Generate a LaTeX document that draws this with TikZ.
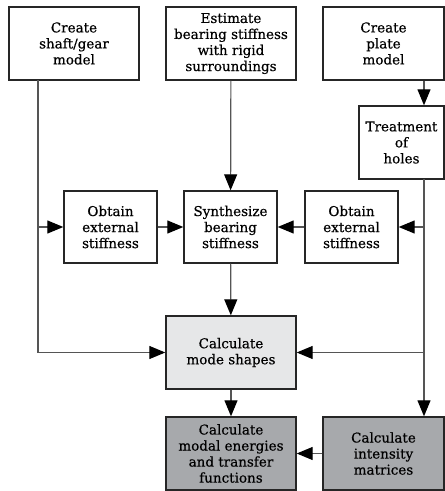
\documentclass[tikz,border=0pt]{standalone}
\usepackage{fontspec}
\setmainfont{DejaVu Serif}
\newfontfamily\boxfont[FakeBold=0.5]{DejaVu Serif}
\usetikzlibrary{positioning,arrows.meta,calc}
\definecolor{lineg}{RGB}{85,85,85}
\definecolor{lightfill}{RGB}{230,231,232}
\definecolor{darkfill}{RGB}{167,169,172}
\tikzset{
  stepbox/.style={draw=black!85,line width=0.35mm,align=center,inner sep=0pt,
    font=\boxfont\fontsize{9.6}{11.4}\selectfont},
  wide/.style={stepbox,minimum width=32.5mm,minimum height=18.25mm},
  narrow/.style={stepbox,minimum width=23.25mm,minimum height=18mm},
  flow/.style={draw=lineg,line width=0.3mm,
    -{Triangle[length=4mm,width=3.25mm,color=black]}},
}
\begin{document}
\begin{tikzpicture}[x=0.25mm,y=-0.25mm]
  \useasboundingbox (0,0) rectangle (445,491);
  % top row
  \node[wide] (shaft) at (74,43.5) {Create\\shaft/gear\\model};
  \node[wide] (est) at (231,43.5) {Estimate\\bearing stiffness\\with rigid\\surroundings};
  \node[wide,minimum width=30.25mm] (plate) at (383.5,43.5) {Create\\plate\\model};
  \node[stepbox,minimum width=21.25mm,minimum height=18.25mm] (treat) at (401.5,142.5) {Treatment\\of\\holes};
  % middle row
  \node[narrow] (obtL) at (110.5,227) {Obtain\\external\\stiffness};
  \node[narrow] (synth) at (230.5,227) {Synthesize\\bearing\\stiffness};
  \node[narrow] (obtR) at (351.5,227) {Obtain\\external\\stiffness};
  % results
  \node[wide,fill=lightfill] (modes) at (231,352.5) {Calculate\\mode shapes};
  \node[wide,fill=darkfill] (energy) at (231,453.5) {Calculate\\modal energies\\and transfer\\functions};
  \node[wide,fill=darkfill,minimum width=30.25mm] (inten) at (383.5,453.5) {Calculate\\intensity\\matrices};
  % buses
  \coordinate (ltop) at (38,80);
  \coordinate (lmid) at (38,227);
  \coordinate (rtop) at (424,179);
  \draw[flow] (ltop) |- (modes.west);
  \draw[flow] (lmid) -- (obtL.west);
  \draw[flow] (plate.south -| rtop) -- (rtop |- treat.north);
  \draw[flow] (rtop) -- (rtop |- inten.north);
  \draw[flow] (rtop |- obtR) -- (obtR.east);
  \draw[flow] (rtop |- modes) -- (modes.east);
  % inner connectors
  \draw[flow] (est) -- (synth);
  \draw[flow] (obtL) -- (synth);
  \draw[flow] (obtR) -- (synth);
  \draw[flow] (synth) -- (modes);
  \draw[flow] (modes) -- (energy);
  \draw[flow] (inten) -- (energy);
\end{tikzpicture}
\end{document}
